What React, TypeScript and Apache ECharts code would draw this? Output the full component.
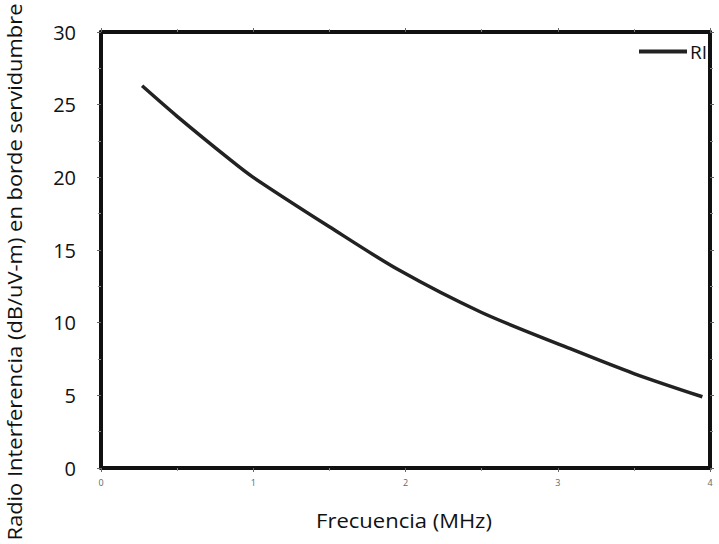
import React, { useEffect, useRef } from "react";
import * as echarts from "echarts";

const freq = [0.27, 0.5, 0.85, 1.0, 1.5, 1.96, 2.5, 3.06, 3.5, 3.95];
const ri = [26.3, 24.2, 21.2, 20.0, 16.6, 13.6, 10.7, 8.3, 6.5, 4.9];
const seriesName = "RI";
const xName = "Frecuencia (MHz)";
const yName = "Radio Interferencia (dB/uV-m) en borde servidumbre";

export default function App() {
  const ref = useRef<HTMLDivElement>(null);
  useEffect(() => {
    if (!ref.current) return;
    const chart = echarts.init(ref.current, null, { renderer: "svg" });
    const font = "'Open Sans', sans-serif";
    const axisLine = { show: true, onZero: false, lineStyle: { color: "#111", width: 4 } };
    const tick = { show: true, length: 4, lineStyle: { color: "#666", width: 1 } };
    const minorTick = { show: true, splitNumber: 2, length: 3, lineStyle: { color: "#888", width: 1 } };
    chart.setOption({
      animation: false,
      grid: { left: 101, right: 9, top: 32, bottom: 76 },
      legend: {
        data: [seriesName],
        left: 634,
        top: 37,
        icon: "rect",
        itemWidth: 48,
        itemHeight: 4,
        itemGap: 4,
        textStyle: { fontFamily: font, fontSize: 19, color: "#111", padding: [0, 0, 0, -2] },
      },
      xAxis: [
        {
          type: "value",
          min: 0,
          max: 4,
          interval: 1,
          position: "bottom",
          axisLine,
          axisTick: tick,
          minorTick,
          splitLine: { show: false },
          axisLabel: { fontFamily: font, fontSize: 9, color: "#666", margin: 10 },
        },
        {
          type: "value",
          min: 0,
          max: 4,
          interval: 1,
          position: "top",
          axisLine,
          axisTick: tick,
          minorTick,
          splitLine: { show: false },
          axisLabel: { show: false },
        },
      ],
      yAxis: [
        {
          type: "value",
          min: 0,
          max: 30,
          interval: 5,
          position: "left",
          axisLine,
          axisTick: tick,
          minorTick,
          splitLine: { show: false },
          axisLabel: { fontFamily: font, fontSize: 20, color: "#111", margin: 25 },
        },
        {
          type: "value",
          min: 0,
          max: 30,
          interval: 5,
          position: "right",
          axisLine,
          axisTick: tick,
          minorTick,
          splitLine: { show: false },
          axisLabel: { show: false },
        },
      ],
      graphic: [
        {
          type: "text",
          x: 14,
          y: 272,
          rotation: Math.PI / 2,
          scaleX: 1.07,
          style: {
            text: yName,
            fontFamily: font,
            fontSize: 20.5,
            fill: "#111",
            align: "center",
            verticalAlign: "middle",
          },
        },
        {
          type: "text",
          x: 404,
          y: 520,
          scaleX: 1.1,
          style: {
            text: xName,
            fontFamily: font,
            fontSize: 20,
            fill: "#111",
            align: "center",
            verticalAlign: "middle",
          },
        },
      ],
      series: [
        {
          name: seriesName,
          type: "line",
          data: freq.map((f, i) => [f, ri[i]]),
          smooth: 0.3,
          symbol: "none",
          lineStyle: { color: "#222", width: 3.5 },
          itemStyle: { color: "#222" },
        },
      ],
    });
    return () => chart.dispose();
  }, []);
  return <div ref={ref} style={{ width: 719, height: 544, position: "absolute", left: 0, top: 0 }} />;
}
